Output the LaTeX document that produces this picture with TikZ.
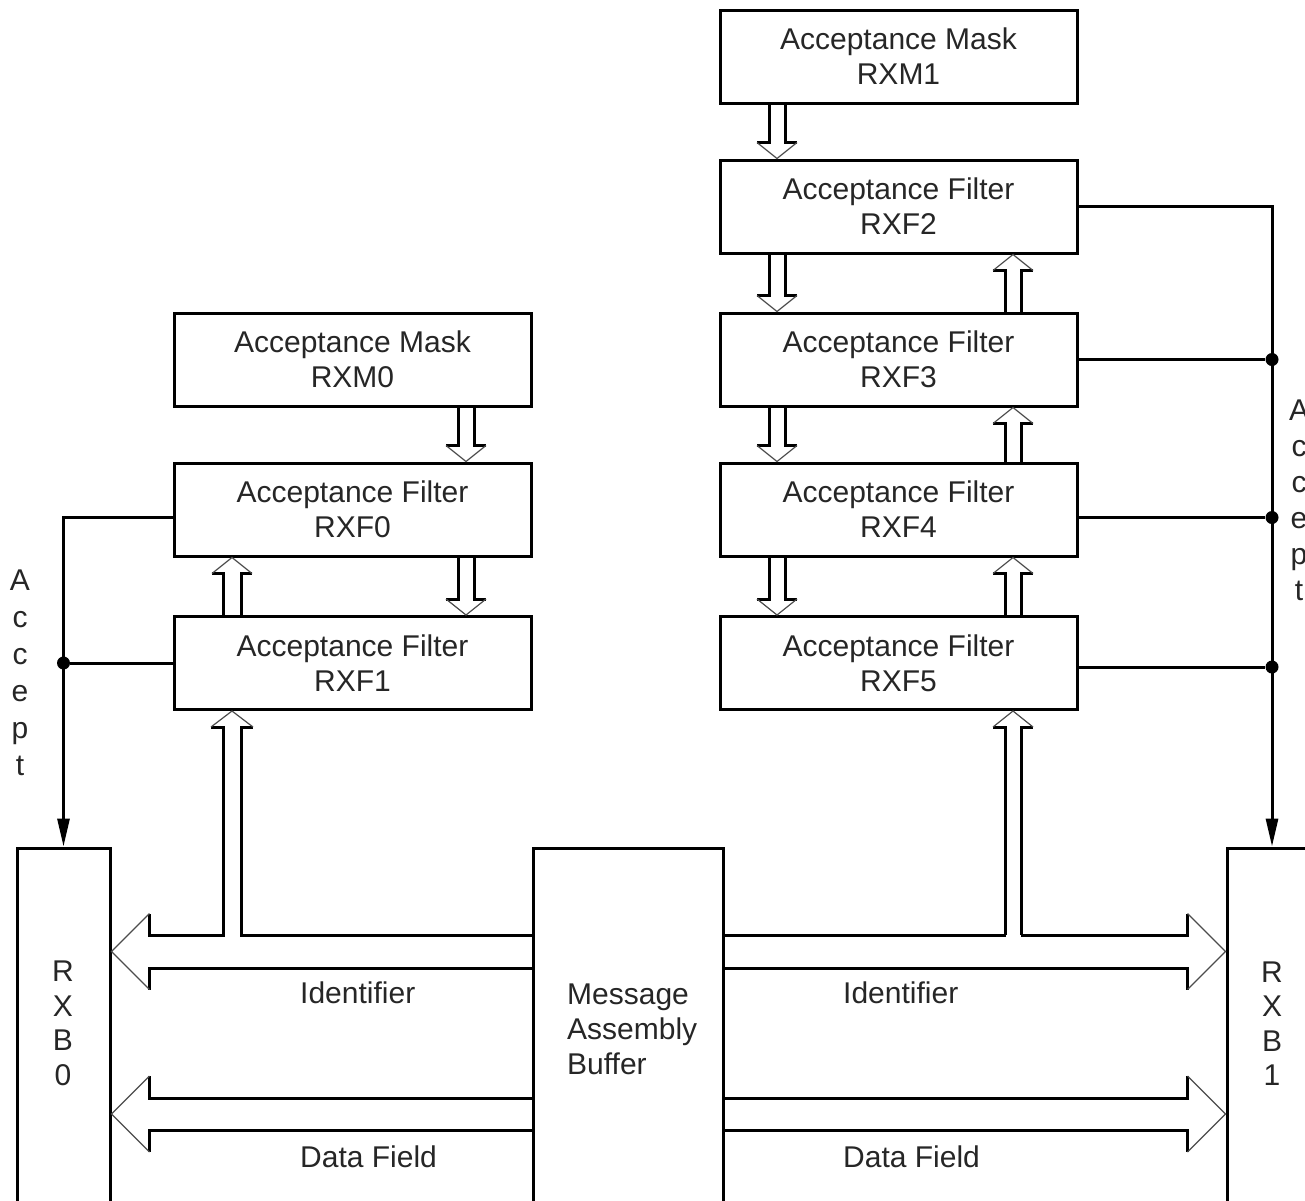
\documentclass[tikz,border=0pt]{standalone}
\usepackage{fontspec}
\setmainfont{Liberation Sans}
\usetikzlibrary{calc}
\usetikzlibrary{arrows.meta}

\newcommand{\diafont}{\fontsize{30}{35}\selectfont}
% hollow arrow: start, target, shaft half width, head half width, head length
\newcommand{\hollowarrow}[5]{%
  \coordinate (hbase) at ($(#2)!#5!(#1)$);
  \draw[line width=3pt] ($(#1)!#3!90:(#2)$) -- ($(hbase)!#3!90:(#2)$) -- ($(hbase)!#4!90:(#2)$);
  \draw[line width=3pt] ($(#1)!#3!-90:(#2)$) -- ($(hbase)!#3!-90:(#2)$) -- ($(hbase)!#4!-90:(#2)$);
  \draw[line width=1.2pt, black!70] ($(hbase)!#4!90:(#2)$) -- (#2) -- ($(hbase)!#4!-90:(#2)$);
}

\tikzset{
  regbox/.style={draw, line width=3pt, minimum width=357pt, minimum height=93pt,
    align=center, font=\diafont, text=black!85},
  bufbox/.style={draw, line width=3pt, minimum height=402pt, inner sep=0pt},
  letterstack/.style={align=center, font={\fontsize{30}{#1}\selectfont}, text=black!85, inner sep=0pt},
  buslabel/.style={anchor=west, font=\diafont, text=black!85, inner sep=0pt},
  wire/.style={line width=3pt},
  dot/.style={circle, fill, inner sep=0pt, minimum size=13pt},
}

\begin{document}
\begin{tikzpicture}[x=1pt, y=-1pt]
  \useasboundingbox (0,0) rectangle (1305,1200);
  \clip (0,0) rectangle (1305,1200);

  % filter banks
  \node[regbox] (rxm1) at (898.5,56.5) {Acceptance Mask\\RXM1};
  \node[regbox] (rxf2) at (898.5,206.5) {Acceptance Filter\\RXF2};
  \node[regbox] (rxf3) at (898.5,359.5) {Acceptance Filter\\RXF3};
  \node[regbox] (rxf4) at (898.5,509.5) {Acceptance Filter\\RXF4};
  \node[regbox] (rxf5) at (898.5,663) {Acceptance Filter\\RXF5};
  \node[regbox] (rxm0) at (352.5,359.5) {Acceptance Mask\\RXM0};
  \node[regbox] (rxf0) at (352.5,509.5) {Acceptance Filter\\RXF0};
  \node[regbox] (rxf1) at (352.5,663) {Acceptance Filter\\RXF1};

  % buffers, open at the bottom
  \node[bufbox, minimum width=93pt] (rxb0) at (63.5,1049) {};
  \node[bufbox, minimum width=190pt] (mab) at (628,1049) {};
  \node[bufbox, minimum width=90pt] (rxb1) at (1272,1049) {};

  % columns of the hollow arrows
  \coordinate (dnR) at (777,0);
  \coordinate (upR) at (1013,0);
  \coordinate (dnL) at (466,0);
  \coordinate (upL) at (232,0);

  \foreach \a/\b in {rxm1/rxf2, rxf2/rxf3, rxf3/rxf4, rxf4/rxf5}
    {\hollowarrow{\a.south -| dnR}{\b.north -| dnR}{8pt}{20pt}{16pt}}
  \foreach \a/\b in {rxf3/rxf2, rxf4/rxf3, rxf5/rxf4}
    {\hollowarrow{\a.north -| upR}{\b.south -| upR}{8pt}{20pt}{16pt}}
  \foreach \a/\b in {rxm0/rxf0, rxf0/rxf1}
    {\hollowarrow{\a.south -| dnL}{\b.north -| dnL}{8pt}{20pt}{16pt}}
  \hollowarrow{rxf1.north -| upL}{rxf0.south -| upL}{9pt}{20pt}{16pt}

  % buses
  \coordinate (idbus) at (0,951.5);
  \coordinate (dfbus) at (0,1114);
  \coordinate (idtop) at (0,935);
  \hollowarrow{mab.west |- idbus}{rxb0.east |- idbus}{16.5pt}{38pt}{38pt}
  \hollowarrow{mab.west |- dfbus}{rxb0.east |- dfbus}{16pt}{38pt}{38pt}
  \hollowarrow{mab.east |- idbus}{rxb1.west |- idbus}{16.5pt}{38pt}{38pt}
  \hollowarrow{mab.east |- dfbus}{rxb1.west |- dfbus}{16pt}{38pt}{38pt}

  % branches from the identifier bus
  \draw[white, line width=4pt] ($(upL |- idtop)+(-7.5,0)$) -- ($(upL |- idtop)+(7.5,0)$);
  \draw[white, line width=4pt] ($(upR |- idtop)+(-7.5,0)$) -- ($(upR |- idtop)+(7.5,0)$);
  \hollowarrow{upL |- idtop}{upL |- rxf1.south}{9pt}{21pt}{16pt}
  \hollowarrow{upR |- idtop}{upR |- rxf5.south}{8pt}{20pt}{16pt}

  % accept lines
  \draw[wire, -{Triangle[length=28pt,width=12pt]}] ([yshift=-8pt]rxf0.west) -| (rxb0.north);
  \node[dot] (jL) at (rxb0.north |- rxf1.west) {};
  \draw[wire] (rxf1.west) -- (jL);
  \draw[wire, -{Triangle[length=28pt,width=12pt]}] (rxf2.east) -| (rxb1.north);
  \node[dot] (j3) at (rxb1.north |- rxf3.east) {};
  \node[dot] (j4) at ($(rxb1.north |- rxf4.east)+(0,8)$) {};
  \node[dot] (j5) at ($(rxb1.north |- rxf5.east)+(0,4)$) {};
  \draw[wire] (rxf3.east) -- (j3);
  \draw[wire] (rxf4.east |- j4) -- (j4);
  \draw[wire] (rxf5.east |- j5) -- (j5);

  % labels
  \node[buslabel] (idL) at (300,993) {Identifier};
  \node[buslabel] (dfL) at (300,1157) {Data Field};
  \node[buslabel] (idR) at (843,993) {Identifier};
  \node[buslabel] (dfR) at (843,1157) {Data Field};
  \node[buslabel, align=left] (mabtext) at (567,1029) {Message\\Assembly\\Buffer};
  \node[letterstack=34.5] (rxb0text) at (63,1023.5) {R\\X\\B\\0};
  \node[letterstack=34.5] (rxb1text) at (1272,1023.5) {R\\X\\B\\1};
  \node[letterstack=37] (acceptL) at (20,673) {A\\c\\c\\e\\p\\t};
  \node[letterstack=36] (acceptR) at (1299,500) {A\\c\\c\\e\\p\\t};
\end{tikzpicture}
\end{document}
